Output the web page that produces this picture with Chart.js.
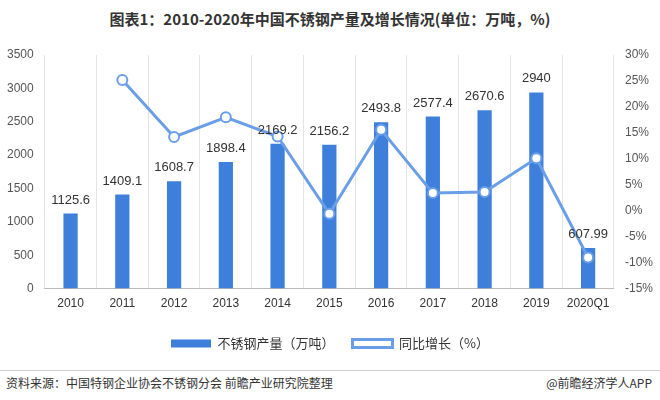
<!DOCTYPE html>
<html>
<head>
<meta charset="utf-8">
<script src="https://cdn.jsdelivr.net/npm/chart.js@4"></script>
<style>
  body { margin: 0; width: 660px; height: 400px; background: #fff; font-family: "Noto Sans CJK SC", "Liberation Sans", sans-serif; position: relative; overflow: hidden; }
  #title { position: absolute; top: 8px; left: 0; width: 660px; text-align: center; font-weight: bold; font-size: 15px; color: #333; }
  #wrap { position: absolute; top: 44px; left: 0; width: 660px; height: 316px; }
  #foot { position: absolute; top: 370px; left: 0; width: 660px; border-top: 1px solid #ccc; font-size: 12px; color: #333; padding-top: 3px; }
  #foot .r { position: absolute; right: 8px; top: 3px; }
  #foot .l { margin-left: 6px; }
</style>
</head>
<body>
<div id="title">图表1：2010-2020年中国不锈钢产量及增长情况(单位：万吨，%)</div>
<div id="wrap"><canvas id="chart"></canvas></div>
<div id="foot"><span class="l">资料来源：中国特钢企业协会不锈钢分会 前瞻产业研究院整理</span><span class="r">@前瞻经济学人APP</span></div>
<script>
const years = ['2010', '2011', '2012', '2013', '2014', '2015', '2016', '2017', '2018', '2019', '2020Q1'];
const output = [1125.6, 1409.1, 1608.7, 1898.4, 2169.2, 2156.2, 2493.8, 2577.4, 2670.6, 2940, 607.99];
const growth = [null, 25.2, 14.2, 18.0, 14.3, -0.6, 15.6, 3.4, 3.6, 10.1, -9.0];

const barLabels = {
  id: 'barLabels',
  afterDatasetsDraw(chart) {
    const ctx = chart.ctx;
    const meta = chart.getDatasetMeta(1);
    ctx.save();
    ctx.font = '13px "Liberation Sans", sans-serif';
    ctx.fillStyle = '#333';
    ctx.textAlign = 'center';
    ctx.textBaseline = 'bottom';
    meta.data.forEach((bar, i) => {
      ctx.fillText(String(output[i]), bar.x, bar.y - 7);
    });
    ctx.restore();
  }
};

new Chart(document.getElementById('chart'), {
  data: {
    labels: years,
    datasets: [
      {
        type: 'line',
        label: '同比增长（%）',
        data: growth,
        yAxisID: 'y1',
        borderColor: '#6a9ee8',
        backgroundColor: '#fff',
        borderWidth: 3,
        pointRadius: 5,
        pointBorderWidth: 2,
        pointBackgroundColor: '#fff',
        pointBorderColor: '#6a9ee8',
        order: 0
      },
      {
        type: 'bar',
        label: '不锈钢产量（万吨）',
        data: output,
        yAxisID: 'y',
        backgroundColor: '#3f7fdc',
        barPercentage: 0.55,
        categoryPercentage: 0.5,
        order: 1
      }
    ]
  },
  options: {
    responsive: true,
    maintainAspectRatio: false,
    animation: false,
    layout: { padding: { left: 4, right: 4, top: 11 } },
    plugins: {
      legend: {
        position: 'bottom',
        reverse: true,
        labels: { font: { size: 13, family: '"Noto Sans CJK SC", sans-serif' }, color: '#333', boxWidth: 40, boxHeight: 8, padding: 18 }
      },
      tooltip: { enabled: false }
    },
    scales: {
      x: {
        grid: { display: true, color: '#e4e4e4', drawTicks: false },
        border: { color: '#bbb' },
        ticks: { color: '#333', font: { size: 12 }, padding: 8 }
      },
      y: {
        min: 0, max: 3500,
        ticks: { stepSize: 500, color: '#555', font: { size: 12 }, callback: v => String(v) },
        grid: { display: false },
        border: { display: false }
      },
      y1: {
        position: 'right',
        min: -15, max: 30,
        ticks: { stepSize: 5, color: '#555', font: { size: 12 }, callback: v => v + '%' },
        grid: { display: false },
        border: { display: false }
      }
    }
  },
  plugins: [barLabels]
});
</script>
</body>
</html>
